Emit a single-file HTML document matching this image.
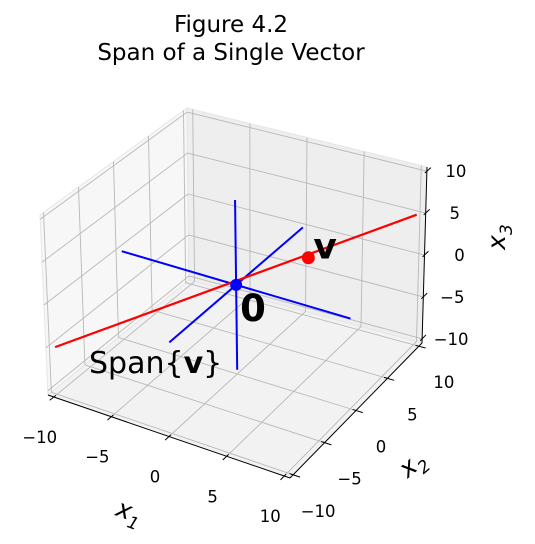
<!DOCTYPE html>
<html><head><meta charset="utf-8"><style>
html,body{margin:0;padding:0;background:#fff;}
svg{display:block;font-family:"DejaVu Sans","Liberation Sans",sans-serif;}
</style></head><body>
<svg id="chart" width="535" height="544" viewBox="0 0 535 544">
<text x="231" y="32" font-size="23" text-anchor="middle">Figure 4.2</text>
<text x="231" y="60" font-size="23" text-anchor="middle">Span of a Single Vector</text>
<g id="panes"></g><g id="grid"></g><g id="axes"></g><g id="marks"></g><g id="labels"></g>
</svg>
<script>
const ticks = [-10, -5, 0, 5, 10];
const tickLabels = ["\u221210", "\u22125", "0", "5", "10"];
const vec = [4, 4, 2];
const spanRange = [-2.5, 2.5];
const axisLineLen = [-10, 10];
const L = 10.5;
const NS = "http://www.w3.org/2000/svg";
const C = {
 "---":[48,395],"+--":[290,478],"++-":[422,343],"-+-":[189,280],
 "--+":[40,215],"+-+":[286,293],"+++":[427,167],"-++":[187,108]};
function P(x,y,z){
 const u=(x+L)/(2*L), v=(y+L)/(2*L), w=(z+L)/(2*L);
 let sx=0, sy=0;
 for(const a of [0,1])for(const b of [0,1])for(const c of [0,1]){
  const k=(a?"+":"-")+(b?"+":"-")+(c?"+":"-");
  const wt=(a?u:1-u)*(b?v:1-v)*(c?w:1-w);
  sx+=wt*C[k][0]; sy+=wt*C[k][1];
 }
 return [sx,sy];
}
function el(tag,attrs,parent){const e=document.createElementNS(NS,tag);for(const k in attrs)e.setAttribute(k,attrs[k]);document.getElementById(parent).appendChild(e);return e;}
function poly(pts,fill,name){const e=el("polygon",{points:pts.map(p=>p.join(",")).join(" "),fill:fill,stroke:"#e6e6e6","stroke-width":1},"panes");
 
 }
poly([P(-L,-L,-L),P(-L,L,-L),P(-L,L,L),P(-L,-L,L)],"#f7f7f7","left-pane");
poly([P(-L,L,-L),P(L,L,-L),P(L,L,L),P(-L,L,L)],"#eeeeee","back-pane");
poly([P(-L,-L,-L),P(L,-L,-L),P(L,L,-L),P(-L,L,-L)],"#f2f2f2","floor-pane");
function line(a,b,col,w,parent,name){const e=el("line",{x1:a[0],y1:a[1],x2:b[0],y2:b[1],stroke:col,"stroke-width":w},parent);
 
 return e;}
ticks.forEach(t=>{
 line(P(t,-L,-L),P(t,L,-L),"#b8b8b8",0.9,"grid","grid-floor-x1");
 line(P(t,L,-L),P(t,L,L),"#b8b8b8",0.9,"grid","grid-back-x1");
 line(P(-L,t,-L),P(L,t,-L),"#b8b8b8",0.9,"grid","grid-floor-x2");
 line(P(-L,t,-L),P(-L,t,L),"#b8b8b8",0.9,"grid","grid-left-x2");
 line(P(-L,-L,t),P(-L,L,t),"#b8b8b8",0.9,"grid","grid-left-x3");
 line(P(-L,L,t),P(L,L,t),"#b8b8b8",0.9,"grid","grid-back-x3");
});
line(P(-L,-L,-L),P(L,-L,-L),"#000",1,"axes","x1-axis-line");
line(P(L,-L,-L),P(L,L,-L),"#000",1,"axes","x2-axis-line");
line(P(L,L,-L),P(L,L,L),"#000",1,"axes","x3-axis-line");
function txt(x,y,s,size,extra,name,parent){const e=el("text",Object.assign({x:x,y:y,"font-size":size,"text-anchor":"middle"},extra||{}),parent||"labels");e.textContent=s;
 
 return e;}
ticks.forEach((t,i)=>{
 line(P(t,-L+0.3,-L),P(t,-L-0.6,-L),"#000",1,"axes","x1-tick");
 let p=P(t,-L,-L); txt(p[0]-14,p[1]+46,tickLabels[i],16.5,{},"x1-tick-label");
 line(P(L-0.3,t,-L),P(L+0.6,t,-L),"#000",1,"axes","x2-tick");
 p=P(L,t,-L); txt(p[0]+25,p[1]+42,tickLabels[i],16.5,{},"x2-tick-label");
 line(P(L,L-0.3,t),P(L,L+0.6,t),"#000",1,"axes","x3-tick");
 p=P(L,L,t); txt(p[0]+29+(t===0?6:0),p[1]+6,tickLabels[i],16.5,{},"x3-tick-label");
});
txt(130,520,"",25,{transform:"rotate(20 130 510)","font-style":"italic"},"x1-axis-title").innerHTML='x<tspan font-size="17" dy="7">1</tspan>';
txt(413,472,"",25,{transform:"rotate(-40 413 465)","font-style":"italic"},"x2-axis-title").innerHTML='x<tspan font-size="17" dy="7">2</tspan>';
txt(513,245,"",25,{transform:"rotate(-90 505 245)","font-style":"italic"},"x3-axis-title").innerHTML='x<tspan font-size="17" dy="7">3</tspan>';
const O=[0,0,0];
line(P(axisLineLen[0],0,0),P(axisLineLen[1],0,0),"#0000ff",2,"marks","blue-axis-x1");
line(P(0,axisLineLen[0],0),P(0,axisLineLen[1],0),"#0000ff",2,"marks","blue-axis-x2");
line(P(0,0,axisLineLen[0]),P(0,0,axisLineLen[1]),"#0000ff",2,"marks","blue-axis-x3");
const a=P(vec[0]*spanRange[0],vec[1]*spanRange[0],vec[2]*spanRange[0]);
const b=P(vec[0]*spanRange[1],vec[1]*spanRange[1],vec[2]*spanRange[1]);
line(a,b,"#ff0000",2.2,"marks","span-line");
const o=P(O[0],O[1],O[2]);
let c=el("circle",{cx:o[0],cy:o[1],r:6,fill:"#0000ff"},"marks");


const vp=P(vec[0],vec[1],vec[2]);
c=el("circle",{cx:vp[0],cy:vp[1],r:6.5,fill:"#ff0000"},"marks");


txt(vp[0]+5,vp[1]+1,"v",36,{"font-weight":"bold","text-anchor":"start"},"vector-label");
txt(o[0]+4,o[1]+36,"0",37,{"font-weight":"bold","text-anchor":"start"},"origin-label");
txt(89,373,"",30,{"text-anchor":"start"},"span-label").innerHTML='Span{<tspan font-weight="bold">v</tspan>}';
</script>
</body></html>
